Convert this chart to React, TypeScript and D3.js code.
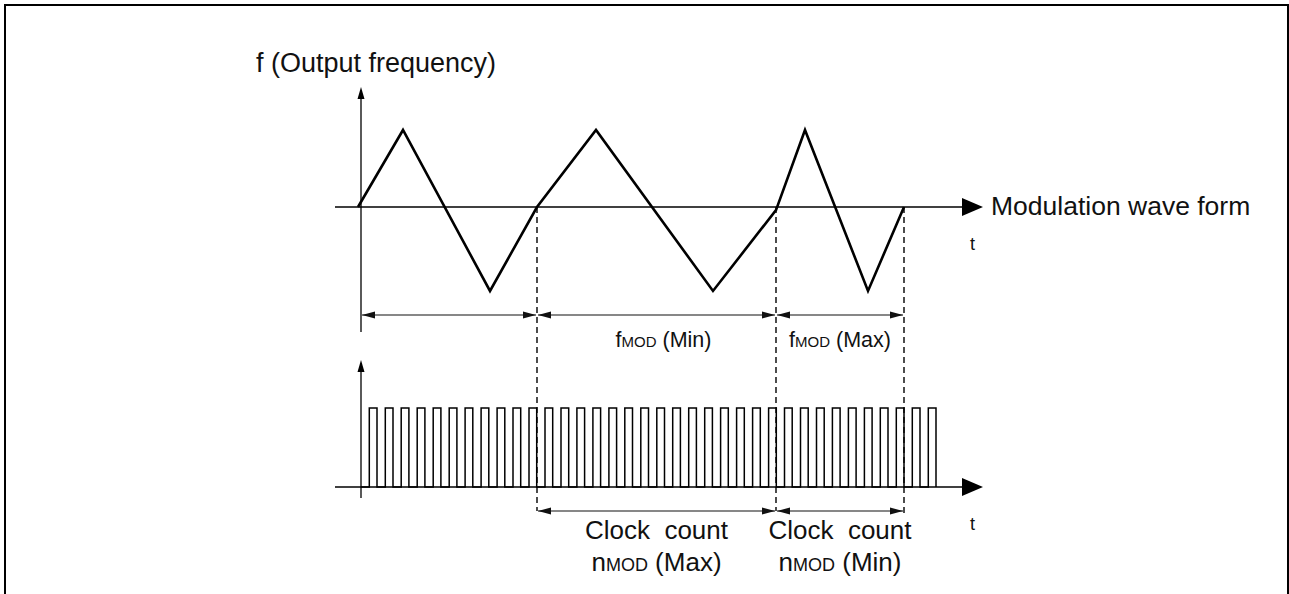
import React, { useEffect, useRef } from 'react';
import * as d3 from 'd3';

// modulation wave (time units, f relative to center)
const waveTime = [-3, 42, 129, 176, 235, 352, 415, 444, 507, 543];
const waveFreq = [0, 1, -1.09, 0, 1, -1.09, -0.04, 1, -1.09, 0];

// boundaries of the modulation periods
const periodEdges = [0, 176, 415, 543];
const spanLabels = ['(Min)', '(Max)'];
const countLabels = ['(Max)', '(Min)'];

// rising edges of the clock pulses
const clockRise = [
  8.3, 24.3, 40.2, 56.2, 72.2, 88.2, 104.1, 120.1, 136.1, 152.0, 168.0, 184.0,
  200.0, 215.9, 231.9, 247.9, 263.8, 279.8, 295.8, 311.7, 327.7, 343.7, 359.6, 375.6,
  391.6, 407.6, 423.5, 439.5, 455.5, 471.4, 487.4, 503.4, 519.3, 535.3, 551.3, 567.3,
];
const clockHighTime = 7.7;

const W = 1289;
const H = 594;
const FONT = "'Liberation Sans', Arial, Helvetica, sans-serif";

const App = () => {
  const svgRef = useRef<SVGSVGElement>(null);

  useEffect(() => {
    const svg = d3.select(svgRef.current);
    svg.selectAll('*').remove();

    const x = d3.scaleLinear().domain([0, 620]).range([361, 981]);
    const yWave = d3.scaleLinear().domain([-1, 1]).range([284, 130]);
    const yClock = d3.scaleLinear().domain([0, 1]).range([487, 408]);

    const defs = svg.append('defs');
    defs.append('marker')
      .attr('id', 'dimArrow')
      .attr('markerUnits', 'userSpaceOnUse')
      .attr('markerWidth', 13)
      .attr('markerHeight', 8)
      .attr('refX', 13)
      .attr('refY', 4)
      .attr('orient', 'auto-start-reverse')
      .append('path')
      .attr('d', 'M0,0.5 L13,4 L0,7.5 Z')
      .attr('fill', '#111');

    // outer frame
    svg.append('rect')
      .attr('x', 5).attr('y', 5)
      .attr('width', W - 6).attr('height', H + 10)
      .attr('fill', 'none').attr('stroke', '#000').attr('stroke-width', 2);

    // axes of both plots
    const axisLeft = x.invert(335);
    const axisRight = x.invert(962);
    const drawAxes = (yZero: number, yTop: number, yBottom: number) => {
      svg.append('line')
        .attr('x1', x(axisLeft)).attr('x2', x(axisRight))
        .attr('y1', yZero).attr('y2', yZero)
        .attr('stroke', '#000').attr('stroke-width', 1.3);
      svg.append('path')
        .attr('d', `M${x(axisRight)},${yZero - 9} L${x(axisRight) + 21},${yZero} L${x(axisRight)},${yZero + 9} Z`)
        .attr('fill', '#000');
      svg.append('line')
        .attr('x1', x(0)).attr('x2', x(0))
        .attr('y1', yTop + 10).attr('y2', yBottom)
        .attr('stroke', '#000').attr('stroke-width', 1.3);
      svg.append('path')
        .attr('d', `M${x(0) - 3.5},${yTop + 12} L${x(0)},${yTop} L${x(0) + 3.5},${yTop + 12} Z`)
        .attr('fill', '#000');
    };
    drawAxes(yWave(0), 87, 332);
    drawAxes(yClock(0), 360, 498);

    // dashed period boundaries
    periodEdges.slice(1).forEach((t, i) => {
      svg.append('line')
        .attr('x1', x(t)).attr('x2', x(t))
        .attr('y1', yWave(0)).attr('y2', i === 2 ? 517 : 511)
        .attr('stroke', '#000').attr('stroke-width', 1.4)
        .attr('stroke-dasharray', '6,4');
    });

    // modulation wave
    const wave = d3.line<number>()
      .x((_, i) => x(waveTime[i]))
      .y((d) => yWave(d));
    svg.append('path')
      .attr('d', wave(waveFreq))
      .attr('fill', 'none')
      .attr('stroke', '#000')
      .attr('stroke-width', 2.6)
      .attr('stroke-linejoin', 'miter');

    // clock pulses
    const steps: [number, number][] = [[0, 0]];
    clockRise.forEach((t) => {
      steps.push([t, 0], [t, 1], [t + clockHighTime, 1], [t + clockHighTime, 0]);
    });
    const clock = d3.line<[number, number]>()
      .x((d) => x(d[0]))
      .y((d) => yClock(d[1]));
    svg.append('path')
      .attr('d', clock(steps))
      .attr('fill', 'none')
      .attr('stroke', '#000')
      .attr('stroke-width', 1.5);

    // dimension arrows
    const dimArrow = (t0: number, t1: number, y: number) => {
      svg.append('line')
        .attr('x1', x(t0) + 1).attr('x2', x(t1) - 1)
        .attr('y1', y).attr('y2', y)
        .attr('stroke', '#111').attr('stroke-width', 1.2)
        .attr('marker-start', 'url(#dimArrow)')
        .attr('marker-end', 'url(#dimArrow)');
    };
    for (let i = 0; i < periodEdges.length - 1; i++) {
      dimArrow(periodEdges[i], periodEdges[i + 1], 315);
    }
    for (let i = 1; i < periodEdges.length - 1; i++) {
      dimArrow(periodEdges[i], periodEdges[i + 1], 511);
    }

    const text = (tx: number, ty: number, size: number, anchor = 'start') =>
      svg.append('text')
        .attr('x', tx).attr('y', ty)
        .attr('font-family', FONT)
        .attr('font-size', size)
        .attr('text-anchor', anchor)
        .attr('fill', '#111');

    text(256, 72, 27).text('f (Output frequency)');
    text(991, 215, 26.5).text('Modulation wave form');
    text(970, 250, 18).text('t');
    text(970, 530, 18).text('t');

    // fMOD labels
    spanLabels.forEach((lab, i) => {
      const mid = (x(periodEdges[i + 1]) + x(periodEdges[i + 2])) / 2 + (i === 0 ? 7 : 0);
      const t = text(mid, 347, 21.5, 'middle');
      t.append('tspan').text('f');
      t.append('tspan').attr('font-size', 15).text('MOD');
      t.append('tspan').text(' ' + lab);
    });

    // clock count labels
    countLabels.forEach((lab, i) => {
      const mid = (x(periodEdges[i + 1]) + x(periodEdges[i + 2])) / 2;
      text(mid, 539, 26, 'middle').attr('xml:space', 'preserve').text('Clock  count');
      const t = text(mid, 571, 26, 'middle');
      t.append('tspan').text('n');
      t.append('tspan').attr('font-size', 18).text('MOD');
      t.append('tspan').text(' ' + lab);
    });
  }, []);

  return (
    <svg
      ref={svgRef}
      width={W}
      height={H}
      style={{ position: 'absolute', left: 0, top: 0, display: 'block', background: '#fff' }}
    />
  );
};

export default App;
